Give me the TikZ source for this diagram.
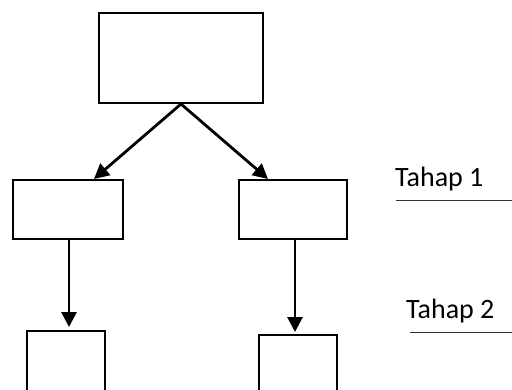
\documentclass[tikz,border=0pt]{standalone}
\usepackage{fontspec}
\setmainfont{Carlito}
\usetikzlibrary{arrows.meta,calc}
\begin{document}
\begin{tikzpicture}[x=1pt,y=-1pt,
  box/.style={draw=black,line width=2pt,inner sep=0pt,fill=white},
  conn/.style={line width=2.8pt,-{Triangle[length=15pt,width=15pt]}},
  lbl/.style={anchor=base west,inner sep=0pt,font=\fontsize{28}{33}\selectfont},
  uline/.style={draw=black!80,line width=1.4pt}]
\useasboundingbox (0,0) rectangle (512,389);
\node[box,minimum width=164pt,minimum height=90pt] (top) at (181,58) {};
\node[box,minimum width=110pt,minimum height=59pt] (lb) at (68,209.5) {};
\node[box,minimum width=108pt,minimum height=59pt] (rb) at (293,209.5) {};
\node[box,minimum width=78pt,minimum height=70pt] (lbb) at (66,366) {};
\node[box,minimum width=78pt,minimum height=70pt] (rbb) at (298,370) {};
\draw[conn] (top.south) -- ([xshift=26pt]lb.north);
\draw[conn] (top.south) -- ([xshift=-25pt]rb.north);
\draw[conn] ([xshift=1pt]lb.south) -- ([xshift=1pt,yshift=3pt]lb.south |- lbb.north);
\draw[conn] ([xshift=2pt]rb.south) -- ([xshift=2pt,yshift=2pt]rb.south |- rbb.north);
\node[lbl] (t1) at (395,186) {Tahap 1};
\node[lbl] (t2) at (406,318) {Tahap 2};
\coordinate (u1a) at (396,200.7);
\coordinate (u1b) at (512,200.7);
\coordinate (u2a) at (410,332.7);
\coordinate (u2b) at (512,332.7);
\draw[uline] (u1a) -- (u1b);
\draw[uline] (u2a) -- (u2b);
\end{tikzpicture}
\end{document}
